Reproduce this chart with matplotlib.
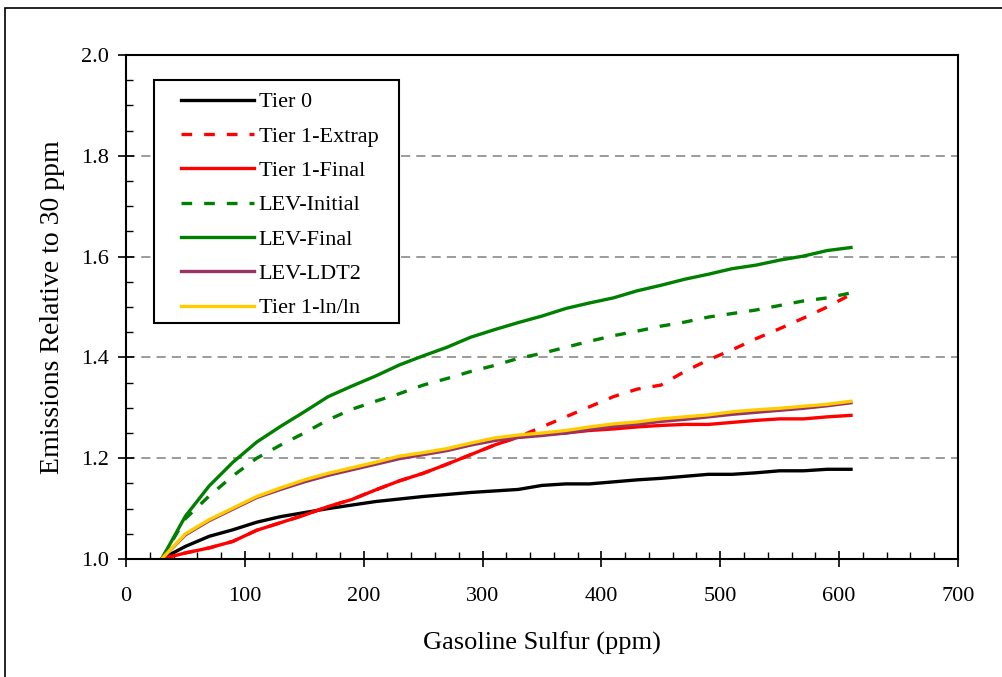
import matplotlib
matplotlib.use("Agg")
import matplotlib.pyplot as plt
from matplotlib.patches import Rectangle
from matplotlib.ticker import MultipleLocator

sulfur = [30, 50, 70, 90, 110, 130, 150, 170, 190, 210, 230, 250, 270, 290, 310,
          330, 350, 370, 390, 410, 430, 450, 470, 490, 510, 530, 550, 570, 590, 610]

tier0 = [1.000, 1.025, 1.045, 1.058, 1.073, 1.084, 1.092, 1.100, 1.107, 1.114,
         1.119, 1.124, 1.128, 1.132, 1.135, 1.138, 1.146, 1.149, 1.149, 1.153,
         1.157, 1.160, 1.164, 1.168, 1.168, 1.171, 1.175, 1.175, 1.178, 1.178]

tier1_final = [1.000, 1.012, 1.022, 1.035, 1.057, 1.072, 1.087, 1.104, 1.118, 1.137,
               1.155, 1.170, 1.188, 1.207, 1.226, 1.242, 1.247, 1.250, 1.255, 1.258,
               1.262, 1.265, 1.267, 1.267, 1.271, 1.275, 1.278, 1.278, 1.282, 1.285]

# extrapolated curve follows the final one up to 330 ppm
tier1_extrap = [1.000, 1.012, 1.022, 1.035, 1.057, 1.072, 1.087, 1.104, 1.118, 1.137,
                1.155, 1.170, 1.188, 1.207, 1.226, 1.242, 1.262, 1.282, 1.302, 1.322,
                1.337, 1.345, 1.372, 1.395, 1.415, 1.437, 1.457, 1.478, 1.500, 1.525]

lev_initial = [1.000, 1.080, 1.125, 1.165, 1.200, 1.226, 1.250, 1.276, 1.297, 1.313,
               1.328, 1.345, 1.358, 1.372, 1.384, 1.398, 1.408, 1.420, 1.432, 1.443,
               1.452, 1.462, 1.470, 1.480, 1.487, 1.494, 1.503, 1.512, 1.518, 1.528]

lev_final = [1.000, 1.085, 1.145, 1.192, 1.232, 1.263, 1.292, 1.322, 1.343, 1.363,
             1.385, 1.403, 1.420, 1.440, 1.455, 1.469, 1.482, 1.497, 1.508, 1.518,
             1.532, 1.543, 1.555, 1.565, 1.576, 1.583, 1.593, 1.601, 1.612, 1.618]

lev_ldt2 = [1.000, 1.048, 1.076, 1.099, 1.122, 1.138, 1.153, 1.166, 1.177, 1.188,
            1.199, 1.207, 1.215, 1.226, 1.235, 1.241, 1.245, 1.250, 1.257, 1.263,
            1.267, 1.273, 1.277, 1.282, 1.287, 1.291, 1.295, 1.299, 1.304, 1.310]

tier1_lnln = [1.000, 1.050, 1.078, 1.101, 1.124, 1.141, 1.157, 1.170, 1.181, 1.192,
              1.204, 1.211, 1.219, 1.230, 1.240, 1.246, 1.250, 1.255, 1.262, 1.268,
              1.272, 1.278, 1.282, 1.286, 1.292, 1.296, 1.299, 1.303, 1.307, 1.313]

plt.rcParams['font.family'] = ['Liberation Serif', 'DejaVu Serif']

fig = plt.figure(figsize=(10.03, 6.77), dpi=100)
ax = fig.add_axes([0.1256, 0.1743, 0.8295, 0.7445])

# outer chart frame
fig.patches.append(Rectangle((0.005, -0.01), 1.02, 0.998, transform=fig.transFigure,
                             fill=False, edgecolor='black', linewidth=1.2))

lw = 2.4
dash = (0, (3.2, 3.6))
ax.plot(sulfur, tier0, color='black', lw=lw, label='Tier 0')
ax.plot(sulfur, tier1_extrap, color='#FF0000', lw=lw, ls=dash, label='Tier 1-Extrap')
ax.plot(sulfur, tier1_final, color='#FF0000', lw=lw, label='Tier 1-Final')
ax.plot(sulfur, lev_initial, color='#008000', lw=lw, ls=dash, label='LEV-Initial')
ax.plot(sulfur, lev_final, color='#008000', lw=lw, label='LEV-Final')
ax.plot(sulfur, lev_ldt2, color='#993366', lw=lw, label='LEV-LDT2')
ax.plot(sulfur, tier1_lnln, color='#FFCC00', lw=lw, label='Tier 1-ln/ln')

ax.set_xlim(0, 700)
ax.set_ylim(1.0, 2.0)
ax.xaxis.set_major_locator(MultipleLocator(100))
ax.xaxis.set_minor_locator(MultipleLocator(20))
ax.yaxis.set_major_locator(MultipleLocator(0.2))
ax.yaxis.set_minor_locator(MultipleLocator(0.05))
ax.yaxis.set_major_formatter(plt.FormatStrFormatter('%.1f'))

ax.tick_params(which='major', direction='inout', length=11, width=1.2, labelsize=16)
ax.tick_params(which='minor', direction='in', length=5, width=1)
ax.tick_params(axis='x', which='major', pad=15)
ax.tick_params(axis='y', which='major', pad=7)

for y in [1.2, 1.4, 1.6, 1.8]:
    ax.axhline(y, color='#808080', lw=1.1, ls=(0, (6, 4)), zorder=0)

for s in ax.spines.values():
    s.set_linewidth(1.5)
    s.set_color('black')

ax.set_xlabel('Gasoline Sulfur (ppm)', fontsize=19, labelpad=18)
ax.set_ylabel('Emissions Relative to 30 ppm', fontsize=20, labelpad=11)

# legend box drawn separately so the padding can match the original
ax.add_patch(Rectangle((0.0337, 0.4683), 0.2944, 0.4821, transform=ax.transAxes,
                       facecolor='white', edgecolor='black', linewidth=1.5, zorder=4))
leg = ax.legend(loc='upper left', bbox_to_anchor=(0.0661, 0.927), borderaxespad=0,
                fontsize=16, frameon=False, handlelength=3.3, handletextpad=0.2,
                labelspacing=0.62, borderpad=0)
leg.set_zorder(5)

fig.savefig('out.png', dpi=100)
